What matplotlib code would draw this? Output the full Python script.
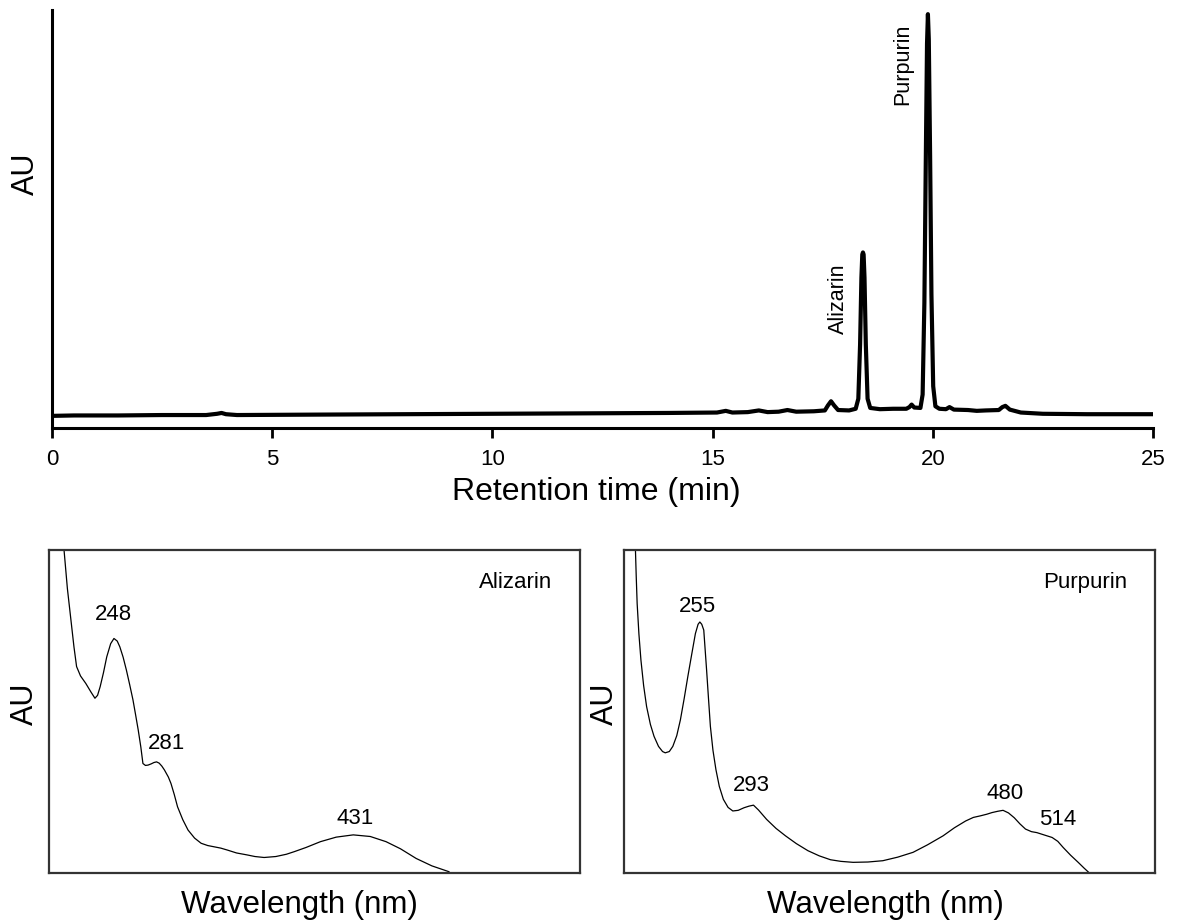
import matplotlib
matplotlib.use("Agg")
import matplotlib.pyplot as plt

plt.rcParams['font.family'] = ['Liberation Sans', 'DejaVu Sans']

# --- chromatogram (retention time in min, relative absorbance) ---
rt = [0.0, 0.5, 1.5, 2.5, 3.5, 3.75, 3.85, 3.95, 4.2, 6.0, 8.0, 10.0, 12.0, 14.0,
      15.1, 15.3, 15.45, 15.8, 16.05, 16.25, 16.5, 16.7, 16.9, 17.3, 17.55,
      17.62, 17.69, 17.76, 17.85, 18.1, 18.25, 18.31, 18.35, 18.38, 18.40, 18.415,
      18.43, 18.45, 18.48, 18.52, 18.58, 18.8, 19.1, 19.4, 19.47, 19.52, 19.58,
      19.72, 19.77, 19.81, 19.84, 19.87, 19.89, 19.91, 19.94, 19.97, 20.01, 20.06,
      20.15, 20.3, 20.38, 20.48, 20.8, 21.0, 21.2, 21.5, 21.58, 21.65, 21.75, 22.0,
      22.5, 23.5, 24.0, 25.0]
au = [0.029, 0.030, 0.030, 0.031, 0.031, 0.034, 0.036, 0.033, 0.031, 0.032, 0.033,
      0.034, 0.035, 0.036,
      0.037, 0.041, 0.037, 0.038, 0.042, 0.038, 0.039, 0.043, 0.039, 0.040, 0.042,
      0.054, 0.064, 0.054, 0.043, 0.042, 0.046, 0.070, 0.200, 0.360, 0.415, 0.420,
      0.415, 0.360, 0.200, 0.070, 0.048, 0.045, 0.046, 0.046, 0.050, 0.056, 0.049,
      0.048, 0.080, 0.300, 0.620, 0.920, 0.990, 0.930, 0.650, 0.320, 0.100, 0.052,
      0.046, 0.045, 0.050, 0.044, 0.043, 0.041, 0.042, 0.043, 0.050, 0.053, 0.044,
      0.037, 0.034, 0.033, 0.033, 0.033]

# --- UV-Vis spectrum of alizarin (wavelength nm, AU) ---
wl_aliz = [210, 213, 215.7, 218, 220, 223, 227, 231, 234, 236, 238, 240.5, 243,
           246, 248.5, 251, 253, 255.5, 258, 260.5, 263, 265, 267, 269, 270.6,
           272.5, 274.5, 277, 279, 281, 283, 285, 287, 290, 292, 294.5, 297, 301,
           305, 310, 315, 320, 325, 330, 335, 342, 350, 356, 363, 372, 380, 386,
           395, 406, 418, 431, 444, 456, 467, 479, 491, 504]
au_aliz = [1.02, 0.88, 0.783, 0.70, 0.639, 0.61, 0.587, 0.56, 0.541, 0.550, 0.577,
           0.62, 0.669, 0.710, 0.726, 0.718, 0.700, 0.668, 0.628, 0.583, 0.536, 0.49,
           0.443, 0.39, 0.339, 0.333, 0.334, 0.338, 0.342, 0.344, 0.340, 0.331, 0.319,
           0.297, 0.277, 0.243, 0.205, 0.165, 0.133, 0.108, 0.092, 0.085, 0.081,
           0.077, 0.071, 0.062, 0.056, 0.051, 0.048, 0.051, 0.058, 0.066, 0.079,
           0.097, 0.111, 0.118, 0.113, 0.097, 0.075, 0.045, 0.022, 0.004]

# --- UV-Vis spectrum of purpurin ---
wl_purp = [207.8, 208.5, 209.2, 210.5, 212, 214, 216.2, 219, 221.7, 225, 228, 230,
           233, 235.6, 238.5, 241.2, 244, 246.7, 249.5, 252.3, 254.3, 255.6, 257,
           258.5, 260.6, 262, 263.4, 265.3, 267.5, 270, 273, 276.5, 280, 284, 288.3,
           292, 295.3, 299, 305, 312, 319, 327, 335.6, 344, 352.3, 360, 369, 380,
           391, 402, 413.4, 424, 435.6, 444, 452.3, 458, 463.3, 468, 471.8, 476,
           480, 484, 488.3, 492.5, 496.6, 501, 505, 511, 516.3, 520.5, 524.5,
           530, 535.6, 540, 543.9]
au_purp = [1.02, 0.92, 0.834, 0.74, 0.659, 0.58, 0.515, 0.46, 0.423, 0.392, 0.376,
           0.372, 0.376, 0.392, 0.425, 0.474, 0.540, 0.608, 0.675, 0.741, 0.770,
           0.777, 0.770, 0.752, 0.628, 0.54, 0.454, 0.38, 0.320, 0.268, 0.228, 0.203,
           0.192, 0.194, 0.202, 0.207, 0.210, 0.195, 0.166, 0.138, 0.115, 0.091,
           0.069, 0.053, 0.041, 0.036, 0.033, 0.034, 0.038, 0.049, 0.064, 0.087,
           0.115, 0.140, 0.161, 0.172, 0.177, 0.182, 0.187, 0.191, 0.194, 0.186,
           0.171, 0.152, 0.136, 0.128, 0.125, 0.117, 0.110, 0.098, 0.079, 0.055,
           0.033, 0.015, 0.0]

aliz_labels = [("248", 248.3, 0.80), ("281", 288.2, 0.40), ("431", 432.4, 0.17)]
purp_labels = [("255", 253.7, 0.825), ("293", 293.8, 0.27),
               ("480", 481.3, 0.246), ("514", 520.2, 0.166)]

fig = plt.figure(figsize=(11.79, 9.24), dpi=100)

# top: chromatogram
ax = fig.add_axes([0.0441, 0.5368, 0.9338, 0.4524])
ax.plot(rt, au, color='black', lw=3.0, solid_joinstyle='round')
ax.set_xlim(0, 25)
ax.set_ylim(0, 1.0)
ax.set_xticks([0, 5, 10, 15, 20, 25])
ax.set_yticks([])
for s in ['top', 'right']:
    ax.spines[s].set_visible(False)
for s in ['left', 'bottom']:
    ax.spines[s].set_linewidth(2.2)
ax.tick_params(axis='x', direction='out', length=7, width=2, labelsize=16, pad=8)
ax.text(17.85, 0.31, "Alizarin", rotation=90, ha='center', va='center', fontsize=15.5)
ax.text(19.32, 0.87, "Purpurin", rotation=90, ha='center', va='center', fontsize=15.5)
fig.text(0.506, 0.4675, "Retention time (min)", ha='center', va='center', fontsize=23)
fig.text(0.022, 0.812, "AU", rotation=90, ha='center', va='center', fontsize=22)


def spectrum_panel(rect, wl, vals, xlim, labels, name, name_x):
    a = fig.add_axes(rect)
    a.plot(wl, vals, color='black', lw=0.9)
    a.set_xlim(*xlim)
    a.set_ylim(0, 1.0)
    a.set_xticks([])
    a.set_yticks([])
    for s in a.spines.values():
        s.set_linewidth(1.6)
        s.set_color('#333333')
    for txt, x, y in labels:
        a.text(x, y, txt, ha='center', va='center', fontsize=16)
    a.text(name_x, 0.90, name, ha='right', va='center', fontsize=16)
    return a


spectrum_panel([0.0416, 0.0552, 0.4504, 0.3496], wl_aliz, au_aliz, (199, 604),
               aliz_labels, "Alizarin", 582.7)
spectrum_panel([0.5293, 0.0552, 0.4504, 0.3496], wl_purp, au_purp, (199.5, 592.5),
               purp_labels, "Purpurin", 571.7)

fig.text(0.254, 0.0206, "Wavelength (nm)", ha='center', va='center', fontsize=22.5)
fig.text(0.751, 0.0206, "Wavelength (nm)", ha='center', va='center', fontsize=22.5)
fig.text(0.0212, 0.238, "AU", rotation=90, ha='center', va='center', fontsize=22)
fig.text(0.513, 0.238, "AU", rotation=90, ha='center', va='center', fontsize=22)

fig.savefig("out.png", dpi=100)
